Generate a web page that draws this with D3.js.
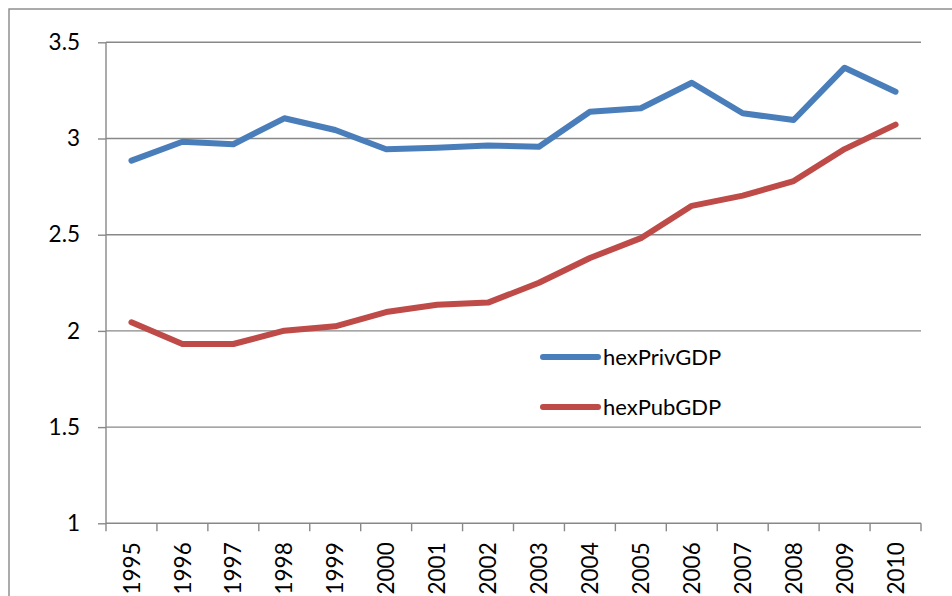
<!DOCTYPE html>
<meta charset="utf-8">
<script src="https://d3js.org/d3.v7.min.js"></script>
<style>
body { margin: 0; background: #fff; }
svg { font-family: Lato, "Open Sans", sans-serif; }
.grid line { stroke: #888; stroke-width: 1.4; }
.axis path, .axis line { stroke: #888; stroke-width: 1.4; }
.axis text { font-family: Lato, "Open Sans", sans-serif; font-size: 22.5px; fill: #000; }
.line { fill: none; stroke-width: 6; stroke-linejoin: round; stroke-linecap: round; }
</style>
<body>
<div id="chart"></div>
<script>
// data
var years = ["1995","1996","1997","1998","1999","2000","2001","2002",
             "2003","2004","2005","2006","2007","2008","2009","2010"];
var hexPrivGDP = [2.885, 2.983, 2.97, 3.105, 3.044, 2.944, 2.952, 2.963,
                  2.957, 3.139, 3.157, 3.29, 3.131, 3.096, 3.368, 3.243];
var hexPubGDP = [2.045, 1.932, 1.932, 2.001, 2.024, 2.098, 2.136, 2.147,
                 2.25, 2.379, 2.482, 2.65, 2.703, 2.779, 2.945, 3.072];
var yTicks = [1, 1.5, 2, 2.5, 3, 3.5];
var seriesNames = ["hexPrivGDP", "hexPubGDP"];
var colours = ["#4a7ebb", "#be4b48"];

var W = 952, H = 596;
var margin = {top: 42.3, left: 106, right: 31, bottom: 72.7};
var width = W - margin.left - margin.right,
    height = H - margin.top - margin.bottom;

var svg = d3.select("#chart").append("svg")
    .attr("width", W)
    .attr("height", H);

// outer chart border (runs off the right and bottom)
svg.append("rect")
    .attr("x", 9).attr("y", 9)
    .attr("width", W + 20).attr("height", H + 20)
    .attr("fill", "none")
    .attr("stroke", "#888")
    .attr("stroke-width", 1.4);

var g = svg.append("g")
    .attr("transform", "translate(" + margin.left + "," + margin.top + ")");

var x = d3.scaleBand().domain(years).range([0, width]);
var y = d3.scaleLinear().domain([1, 3.5]).range([height, 0]);

// horizontal gridlines
g.append("g").attr("class", "grid")
  .selectAll("line")
  .data(yTicks.filter(function(d) { return d > 1; }))
  .enter().append("line")
    .attr("x1", 0).attr("x2", width)
    .attr("y1", function(d) { return y(d); })
    .attr("y2", function(d) { return y(d); });

// y axis
var yAxis = g.append("g").attr("class", "axis")
    .call(d3.axisLeft(y).tickValues(yTicks).tickSize(8).tickPadding(18)
      .tickFormat(d3.format("")));
yAxis.select(".domain").attr("d", "M0," + height + "V0");

// x axis: ticks on band boundaries
var xAxis = g.append("g").attr("class", "axis")
    .attr("transform", "translate(0," + height + ")")
    .call(d3.axisBottom(x).tickSize(0));
xAxis.select(".domain").attr("d", "M0,0H" + width);
xAxis.selectAll(".tick text")
    .attr("transform", "rotate(-90)")
    .attr("text-anchor", "end")
    .attr("x", -19)
    .attr("y", 0)
    .attr("dy", "0.36em");
xAxis.selectAll(".bnd")
  .data(d3.range(years.length + 1))
  .enter().append("line")
    .attr("class", "bnd")
    .attr("x1", function(i) { return i * x.step(); })
    .attr("x2", function(i) { return i * x.step(); })
    .attr("y1", 0).attr("y2", 8);

var line = d3.line()
    .x(function(d, i) { return x(years[i]) + x.bandwidth() / 2; })
    .y(function(d) { return y(d); });

[hexPrivGDP, hexPubGDP].forEach(function(vals, k) {
  g.append("path")
    .attr("class", "line")
    .attr("d", line(vals))
    .attr("stroke", colours[k]);
});

// legend
var legend = svg.append("g").attr("transform", "translate(543,357)");
seriesNames.forEach(function(name, k) {
  var row = legend.append("g").attr("transform", "translate(0," + (k * 50) + ")");
  row.append("line")
    .attr("x1", 0).attr("x2", 55)
    .attr("stroke", colours[k])
    .attr("stroke-width", 6)
    .attr("stroke-linecap", "round");
  row.append("text")
    .attr("x", 60)
    .attr("dy", "0.36em")
    .style("font-size", "22px")
    .text(name);
});
</script>
</body>
